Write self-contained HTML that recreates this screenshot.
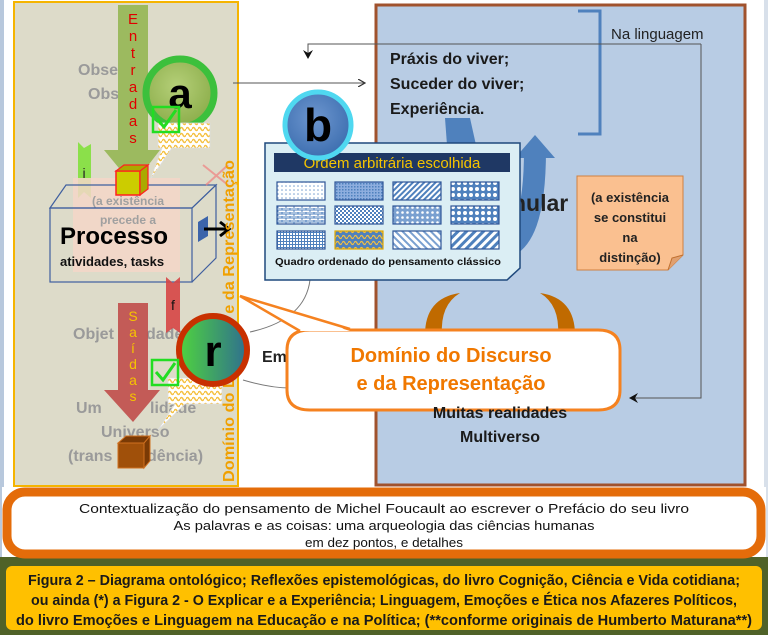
<!DOCTYPE html>
<html><head><meta charset="utf-8"><style>
html,body{margin:0;padding:0;background:#fff}
svg{display:block}
text{font-family:"Liberation Sans",sans-serif}
</style></head><body>
<svg width="768" height="635" viewBox="0 0 768 635" xmlns="http://www.w3.org/2000/svg">
<defs>
<pattern id="p1" width="4" height="4" patternUnits="userSpaceOnUse"><rect width="4" height="4" fill="#fff"/><circle cx="2" cy="2" r="0.8" fill="#7aa0d0"/></pattern>
<pattern id="p2" width="3" height="3" patternUnits="userSpaceOnUse"><rect width="3" height="3" fill="#8eaede"/><rect width="1.5" height="1.5" fill="#4f81bd"/></pattern>
<pattern id="p3" width="4" height="4" patternUnits="userSpaceOnUse" patternTransform="rotate(45)"><rect width="4" height="4" fill="#fff"/><rect width="2" height="4" fill="#4f81bd"/></pattern>
<pattern id="p4" width="6" height="6" patternUnits="userSpaceOnUse"><rect width="6" height="6" fill="#4f81bd"/><circle cx="3" cy="3" r="2" fill="#fff"/></pattern>
<pattern id="p5" width="8" height="4" patternUnits="userSpaceOnUse"><rect width="8" height="4" fill="#fff"/><path d="M0 0H8M0 2H8M2 0V2M6 2V4" stroke="#4f81bd" stroke-width="1"/></pattern>
<pattern id="p6" width="4" height="4" patternUnits="userSpaceOnUse"><rect width="4" height="4" fill="#4f81bd"/><rect width="2" height="2" fill="#fff"/><rect x="2" y="2" width="2" height="2" fill="#fff"/></pattern>
<pattern id="p7" width="5" height="5" patternUnits="userSpaceOnUse"><rect width="5" height="5" fill="#7aa0d0"/><circle cx="2.5" cy="2.5" r="1.3" fill="#fff"/></pattern>
<pattern id="p8" width="3" height="3" patternUnits="userSpaceOnUse"><rect width="3" height="3" fill="#fff"/><path d="M0 1.5H3M1.5 0V3" stroke="#4f81bd" stroke-width="1"/></pattern>
<pattern id="p9" width="5" height="5" patternUnits="userSpaceOnUse" patternTransform="rotate(-45)"><rect width="5" height="5" fill="#fff"/><rect width="2" height="5" fill="#7aa0d0"/></pattern>
<pattern id="p10" width="6" height="6" patternUnits="userSpaceOnUse" patternTransform="rotate(45)"><rect width="6" height="6" fill="#fff"/><rect width="3" height="6" fill="#4f81bd"/></pattern>
<pattern id="py" width="6" height="6" patternUnits="userSpaceOnUse"><rect width="6" height="6" fill="#fff"/><path d="M0 3Q1.5 0 3 3T6 3" stroke="#f5c040" fill="none" stroke-width="1.4"/></pattern>
<pattern id="pz" width="6" height="6" patternUnits="userSpaceOnUse"><rect width="6" height="6" fill="#4f81bd"/><path d="M0 3Q1.5 0 3 3T6 3" stroke="#f5c040" fill="none" stroke-width="1.2"/></pattern>
<radialGradient id="ga" cx="0.45" cy="0.4" r="0.6"><stop offset="0" stop-color="#b5cf78"/><stop offset="1" stop-color="#8cae4b"/></radialGradient>
<radialGradient id="gb" cx="0.45" cy="0.4" r="0.6"><stop offset="0" stop-color="#6d96cf"/><stop offset="1" stop-color="#3e6fb0"/></radialGradient>
<linearGradient id="gr" x1="0" x2="1"><stop offset="0" stop-color="#4fd43e"/><stop offset="1" stop-color="#2f6f8f"/></linearGradient>
<marker id="ah" markerWidth="8" markerHeight="8" refX="7" refY="4" orient="auto"><path d="M0 0L7 4L0 8" fill="none" stroke="#333" stroke-width="1.2"/></marker>
<marker id="ahf" markerWidth="10" markerHeight="10" refX="8" refY="5" orient="auto"><path d="M0 0L9 5L0 10L3 5Z" fill="#111"/></marker>
</defs>

<rect width="768" height="635" fill="#fff"/>
<rect x="0" y="0" width="4" height="560" fill="#b8c8dc"/>
<rect x="764" y="0" width="4" height="560" fill="#d8e0ea"/>

<rect x="14" y="2" width="224" height="484" fill="#dddbc9" stroke="#f5b400" stroke-width="2"/>
<rect x="376" y="5" width="369" height="480" fill="#b8cce4" stroke="#a0522d" stroke-width="3"/>

<path d="M578 11H600V134H578" fill="none" stroke="#4f81bd" stroke-width="3"/>
<text x="611" y="39" font-size="15" fill="#222">Na linguagem</text>

<path d="M701 44H308V58" fill="none" stroke="#555" stroke-width="1" marker-end="url(#ahf)"/>
<path d="M701 44V398H630" fill="none" stroke="#555" stroke-width="1" marker-end="url(#ahf)"/>
<path d="M233 83H365" fill="none" stroke="#555" stroke-width="1" marker-end="url(#ah)"/>

<text font-size="16" font-weight="bold" fill="#1a1a1a"><tspan x="390" y="64">Práxis do viver;</tspan><tspan x="390" y="89">Suceder do viver;</tspan><tspan x="390" y="114">Experiência.</tspan></text>

<path d="M460 130 Q 455 250 500 248 Q 535 245 535 150" fill="none" stroke="#4f81bd" stroke-width="22"/>
<path d="M445 118L470 118L476 145L447 145Z" fill="#4f81bd"/>
<path d="M515 158L535 135L555 158Z" fill="#4f81bd"/>
<text x="512" y="211" font-size="23" font-weight="bold" fill="#222">nular</text>

<path d="M577 176H683V255L668 270H577Z" fill="#fac090" stroke="#d08040" stroke-width="1"/>
<path d="M668 270L672 258L683 255" fill="#e0a070" stroke="#c07030"/>
<text font-size="13" font-weight="bold" fill="#222" text-anchor="middle"><tspan x="630" y="202">(a existência</tspan><tspan x="630" y="222">se constitui</tspan><tspan x="630" y="242">na</tspan><tspan x="630" y="262">distinção)</tspan></text>

<path d="M425 335 Q 425 298 460 293 Q 440 305 442 335Z" fill="#c06a00"/>
<path d="M575 335 Q 575 298 540 293 Q 560 305 558 335Z" fill="#c06a00"/>

<path d="M250 332 Q 305 320 310 280" fill="none" stroke="#777" stroke-width="1"/>
<path d="M243 380 Q 270 388 290 388" fill="none" stroke="#777" stroke-width="1"/>
<text x="262" y="362" font-size="16" font-weight="bold" fill="#222">Em</text>

<path d="M265 143H520V268L507 280H265Z" fill="#dbeef4" stroke="#1f497d" stroke-width="1.5"/>
<rect x="274" y="153" width="236" height="19" fill="#1f3864"/>
<text x="392" y="168" font-size="15" fill="#f5c400" text-anchor="middle">Ordem arbitrária escolhida</text>
<g stroke="#2f5597" stroke-width="1.2">
<rect x="277" y="182" width="48" height="18" fill="url(#p1)"/>
<rect x="335" y="182" width="48" height="18" fill="url(#p2)"/>
<rect x="393" y="182" width="48" height="18" fill="url(#p3)"/>
<rect x="451" y="182" width="48" height="18" fill="url(#p4)"/>
<rect x="277" y="206" width="48" height="18" fill="url(#p5)"/>
<rect x="335" y="206" width="48" height="18" fill="url(#p6)"/>
<rect x="393" y="206" width="48" height="18" fill="url(#p7)"/>
<rect x="451" y="206" width="48" height="18" fill="url(#p4)"/>
<rect x="277" y="231" width="48" height="18" fill="url(#p8)"/>
<rect x="335" y="231" width="48" height="18" fill="url(#pz)" stroke="#e0a800"/>
<rect x="393" y="231" width="48" height="18" fill="url(#p9)"/>
<rect x="451" y="231" width="48" height="18" fill="url(#p10)"/>
</g>
<text x="388" y="265" font-size="10.5" font-weight="bold" fill="#111" text-anchor="middle" textLength="226" lengthAdjust="spacingAndGlyphs">Quadro ordenado do pensamento clássico</text>

<circle cx="318" cy="125" r="33" fill="url(#gb)" stroke="#4fd8f0" stroke-width="5"/>
<text x="318" y="141" font-size="46" font-weight="bold" fill="#000" text-anchor="middle">b</text>

<text font-size="16" font-weight="bold" fill="#9a9a9a"><tspan x="78" y="75">Obse</tspan><tspan x="88" y="99">Obs</tspan><tspan x="73" y="339">Objet</tspan><tspan x="146" y="339">dade</tspan><tspan x="76" y="413">Um</tspan><tspan x="150" y="413">lidade</tspan><tspan x="101" y="437">Universo</tspan><tspan x="68" y="461">(trans</tspan><tspan x="147" y="461">dência)</tspan></text>

<path d="M118 5H148V150H160L133 185L104 150H118Z" fill="#98b85a" opacity="0.95"/>
<text font-size="15" fill="#e00000" text-anchor="middle" font-family="Liberation Mono"><tspan x="133" y="24">E</tspan><tspan x="133" y="41">n</tspan><tspan x="133" y="58">t</tspan><tspan x="133" y="75">r</tspan><tspan x="133" y="92">a</tspan><tspan x="133" y="109">d</tspan><tspan x="133" y="126">a</tspan><tspan x="133" y="143">s</tspan></text>

<circle cx="180" cy="93" r="34" fill="url(#ga)" stroke="#3cc03c" stroke-width="7"/>
<text x="180" y="108" font-size="42" font-weight="bold" fill="#000" text-anchor="middle">a</text>
<path d="M158 123H210V148H172L150 180L162 148H158Z" fill="url(#py)" stroke="#ddd" stroke-width="0.8"/>
<rect x="153" y="107" width="26" height="25" fill="none" stroke="#22dd22" stroke-width="2.5"/>
<path d="M157 119L164 127L176 110" fill="none" stroke="#22dd22" stroke-width="3"/>

<path d="M78 142L84 148L91 144V198L84 192L78 198Z" fill="#8be04a"/>
<text x="84" y="178" font-size="14" fill="#222" text-anchor="middle">i</text>

<rect x="73" y="178" width="107" height="94" fill="#f5d6c8" opacity="0.85"/>
<text font-size="12" font-weight="bold" fill="#a0a0a0" text-anchor="middle"><tspan x="128" y="205">(a existência</tspan><tspan x="128" y="224">precede a</tspan></text>

<g fill="none" stroke="#3f5f9f" stroke-width="1.2">
<path d="M50 208L66 185H216L192 208Z"/>
<path d="M192 208L216 185V258L192 282"/>
<rect x="50" y="208" width="142" height="74"/>
</g>
<path d="M198 222L208 216V236L198 242Z" fill="#3c64aa"/>
<path d="M204 229H228M220 222L229 229L220 236" fill="none" stroke="#000" stroke-width="3"/>
<rect x="116" y="171" width="24" height="24" fill="#cccc00" stroke="#ff2020" stroke-width="1.5"/>
<path d="M116 171L124 165H148L140 171ZM140 171L148 165V189L140 195Z" fill="#aaaa00" stroke="#ff2020" stroke-width="1.2"/>
<text x="60" y="244" font-size="24" font-weight="bold" fill="#000">Processo</text>
<text x="60" y="266" font-size="13" font-weight="bold" fill="#111">atividades, tasks</text>

<path d="M203 165L228 185M228 165L206 185" stroke="#f08080" stroke-width="2" opacity="0.7"/>

<path d="M166 277L173 283L180 277V333L173 328L166 333Z" fill="#d64545" opacity="0.9"/>
<text x="173" y="310" font-size="14" fill="#111" text-anchor="middle">f</text>

<path d="M118 303H148V390H160L133 422L104 390H118Z" fill="#c0504d" opacity="0.92"/>
<text font-size="14" fill="#f5c400" text-anchor="middle" font-family="Liberation Mono"><tspan x="133" y="321">S</tspan><tspan x="133" y="337">a</tspan><tspan x="133" y="353">í</tspan><tspan x="133" y="369">d</tspan><tspan x="133" y="385">a</tspan><tspan x="133" y="401">s</tspan></text>

<rect x="118" y="443" width="26" height="25" fill="#a0500a" stroke="#d07020" stroke-width="1"/>
<path d="M118 443L126 436H150L144 443ZM144 443L150 436V461L144 468Z" fill="#7a3a05" stroke="#d07020" stroke-width="1"/>

<text transform="translate(234,482) rotate(-90)" font-size="16" font-weight="bold" fill="#f0a000" textLength="322" lengthAdjust="spacingAndGlyphs">Domínio do Discurso e da Representação</text>

<path d="M168 378H222V404H185L158 430L175 404H168Z" fill="url(#py)" stroke="#ddd" stroke-width="0.8"/>
<circle cx="213" cy="350" r="34" fill="url(#gr)" stroke="#c83000" stroke-width="6"/>
<text x="213" y="366" font-size="44" font-weight="bold" fill="#000" text-anchor="middle">r</text>
<rect x="152" y="360" width="26" height="25" fill="none" stroke="#22dd22" stroke-width="2.5"/>
<path d="M156 372L163 380L175 363" fill="none" stroke="#22dd22" stroke-width="3"/>

<path d="M310 330H598Q620 330 620 350V390Q620 410 598 410H310Q287 410 287 390V350Q287 330 310 330Z" fill="#fff" stroke="#f58220" stroke-width="3"/>
<path d="M240 296L350 331H300Z" fill="#fff"/>
<path d="M300 331L240 296L350 329" fill="none" stroke="#f58220" stroke-width="2.5"/>
<text font-size="20" font-weight="bold" fill="#f07800" text-anchor="middle"><tspan x="451" y="362">Domínio do Discurso</tspan><tspan x="451" y="390">e da Representação</tspan></text>

<text font-size="16" font-weight="bold" fill="#1a1a1a" text-anchor="middle"><tspan x="500" y="418">Muitas realidades</tspan><tspan x="500" y="442">Multiverso</tspan></text>

<rect x="0" y="557" width="768" height="78" fill="#4f6228"/>
<rect x="2" y="487" width="764" height="70" fill="#fff"/>
<rect x="7" y="492" width="754" height="62" rx="18" fill="#fff" stroke="#e46c0a" stroke-width="9"/>
<g font-size="13" fill="#111" text-anchor="middle">
<text x="384" y="513" textLength="610" lengthAdjust="spacingAndGlyphs">Contextualização do pensamento de Michel Foucault ao escrever o Prefácio do seu livro</text>
<text x="384" y="530" textLength="421" lengthAdjust="spacingAndGlyphs">As palavras e as coisas: uma arqueologia das ciências humanas</text>
<text x="384" y="547" textLength="158" lengthAdjust="spacingAndGlyphs">em dez pontos, e detalhes</text>
</g>
<rect x="6" y="566" width="756" height="64" rx="6" fill="#ffc000"/>
<g font-size="14.5" font-weight="bold" fill="#1a1a1a" text-anchor="middle">
<text x="384" y="585" textLength="712" lengthAdjust="spacingAndGlyphs">Figura 2 – Diagrama ontológico; Reflexões epistemológicas, do livro Cognição, Ciência e Vida cotidiana;</text>
<text x="384" y="605" textLength="706" lengthAdjust="spacingAndGlyphs">ou ainda (*) a Figura 2 - O Explicar e a Experiência; Linguagem, Emoções e Ética nos Afazeres Políticos,</text>
<text x="384" y="625" textLength="736" lengthAdjust="spacingAndGlyphs">do livro Emoções e Linguagem na Educação e na Política; (**conforme originais de Humberto Maturana**)</text>
</g>
</svg>
</body></html>
